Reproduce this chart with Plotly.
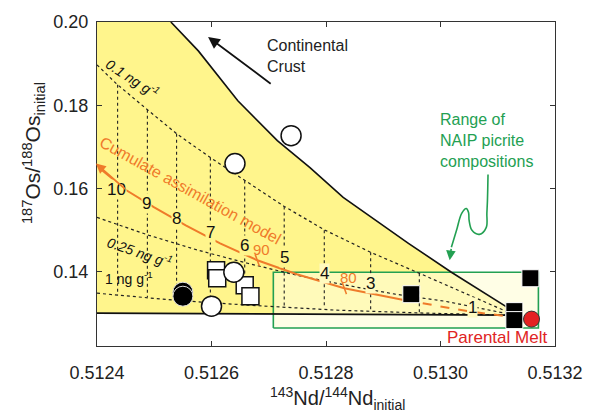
import plotly.graph_objects as go

# ---------------- data ----------------
x_ticks = [0.5124, 0.5126, 0.5128, 0.5130, 0.5132]
y_ticks = [0.14, 0.16, 0.18, 0.20]

# common end-member of all mixing curves (parental melt side)
end_x = 0.51313
end_y = 0.1296

# upper bound: mixing with continental crust
crust_x = [0.512529, 0.512577, 0.512646, 0.512715, 0.512772, 0.512830, 0.512887, 0.512944, 0.513019, 0.513116]
crust_y = [0.2000, 0.19306, 0.18109, 0.17151, 0.16505, 0.15787, 0.15236, 0.14686, 0.13991, 0.13154]

# lower bound (solid line)
lower_x = [0.5124]
lower_y = [0.1301]

# Os-concentration mixing curves
c01_x = [0.5124, 0.512434, 0.512486, 0.512539, 0.512598, 0.512658, 0.512727, 0.512799, 0.512878, 0.512963]
c01_y = [0.18971, 0.18516, 0.17917, 0.17319, 0.16744, 0.16194, 0.15571, 0.14997, 0.14470, 0.13967]
c025_x = [0.5124, 0.512491, 0.512577, 0.512663, 0.512749, 0.512835, 0.512921, 0.513007]
c025_y = [0.15308, 0.14877, 0.14518, 0.14206, 0.13919, 0.13680, 0.13464, 0.13297]
c1_x = [0.5124, 0.512534, 0.512663, 0.512818, 0.512973]
c1_y = [0.13488, 0.13321, 0.13201, 0.13081, 0.13010]

# tie lines (% assimilated markers)
tie_x = [0.512436, 0.512488, 0.512539, 0.512598, 0.512658, 0.512727, 0.512797, 0.512878, 0.512963]
tie_top = [0.18492, 0.17893, 0.17319, 0.16744, 0.16194, 0.15571, 0.14997, 0.14470, 0.13967]
tie_bot = [0.13440, 0.13393, 0.13345, 0.13297, 0.13237, 0.13177, 0.13129, 0.13057, 0.13010]

step_labels = ["10", "9", "8", "7", "6", "5", "4", "3", "1"]
step_x = [0.512434, 0.512486, 0.512539, 0.512598, 0.512658, 0.512727, 0.512797, 0.512877, 0.513056]
step_y = [0.15978, 0.15643, 0.15284, 0.14949, 0.14637, 0.14350, 0.13967, 0.13728, 0.13153]

# cumulate assimilation model (orange)
cum_x = [0.512405, 0.512452, 0.512500, 0.512555, 0.512615, 0.512680, 0.512749, 0.512832, 0.512938]
cum_y = [0.16481, 0.15954, 0.15547, 0.15116, 0.14685, 0.14278, 0.13943, 0.13608, 0.13321]
cum_dash_x = [0.512938, 0.513047, 0.513114]
cum_dash_y = [0.13321, 0.13057, 0.12938]
cum_tick_labels = ["90", "80"]
cum_tick_x = [0.512680, 0.512832]
cum_tick_y = [0.14278, 0.13608]

# samples
open_circ_x = [0.512739, 0.512641, 0.512639, 0.512600]
open_circ_y = [0.17271, 0.16600, 0.13991, 0.13177]
black_circ_x = [0.512550, 0.512550]
black_circ_y = [0.13512, 0.13416]
open_sq_x = [0.512608, 0.512610, 0.512658, 0.512668]
open_sq_y = [0.14039, 0.13848, 0.13680, 0.13417]
black_sq_x = [0.512949, 0.513157, 0.513129, 0.513129]
black_sq_y = [0.13464, 0.13847, 0.13057, 0.12842]
melt_x = [0.513159]
melt_y = [0.12866]

# NAIP picrite range box
box_x = [0.512708, 0.513171]
box_y = [0.12651, 0.13991]

# green squiggly arrow
sq_x = [0.513083, 0.513082, 0.513081, 0.513080, 0.513068, 0.513055, 0.513050, 0.513049, 0.513045, 0.513037, 0.513028, 0.513019]
sq_y = [0.16337, 0.15715, 0.15404, 0.15069, 0.14901, 0.14997, 0.15236, 0.15428, 0.15523, 0.15404, 0.14997, 0.14590]

YELLOW = "#FFF58C"
ORANGE = "#EF7B2A"
GREEN = "#23A052"
FONT = "Arial, Liberation Sans, sans-serif"

fig = go.Figure()

# yellow field
poly_x = [0.5124, crust_x[0]] + crust_x + [end_x] + lower_x[::-1] + [0.5124]
poly_y = [0.2, 0.2] + crust_y + [end_y] + lower_y[::-1] + [0.2]
fig.add_trace(go.Scatter(x=poly_x, y=poly_y, fill="toself", fillcolor=YELLOW,
                         mode="lines", line=dict(width=0), hoverinfo="skip"))

# NAIP box
fig.add_trace(go.Scatter(x=[box_x[0], box_x[1], box_x[1], box_x[0], box_x[0]],
                         y=[box_y[0], box_y[0], box_y[1], box_y[1], box_y[0]],
                         fill="toself", fillcolor="rgba(255,253,215,0.62)",
                         mode="lines", line=dict(color=GREEN, width=1.6)))

# tie lines
for xv, t, b in zip(tie_x, tie_top, tie_bot):
    fig.add_trace(go.Scatter(x=[xv, xv], y=[t, b], mode="lines",
                             line=dict(color="#222", width=1.1, dash="dot")))

# mixing curves
for cx, cy in [(c01_x, c01_y), (c025_x, c025_y), (c1_x, c1_y)]:
    fig.add_trace(go.Scatter(x=cx + [end_x], y=cy + [end_y], mode="lines",
                             line=dict(color="#222", width=1.2, dash="dot")))

# crust bound and lower bound (solid)
fig.add_trace(go.Scatter(x=crust_x + [end_x], y=crust_y + [end_y], mode="lines",
                         line=dict(color="#111", width=1.6)))
fig.add_trace(go.Scatter(x=lower_x + [end_x], y=lower_y + [end_y], mode="lines",
                         line=dict(color="#111", width=1.6)))

# cumulate assimilation model
fig.add_trace(go.Scatter(x=cum_x, y=cum_y, mode="lines", line=dict(color=ORANGE, width=2)))
fig.add_trace(go.Scatter(x=cum_dash_x, y=cum_dash_y, mode="lines",
                         line=dict(color=ORANGE, width=2, dash="dash")))
fig.add_trace(go.Scatter(x=cum_tick_x, y=cum_tick_y, mode="markers",
                         marker=dict(symbol="line-ns", size=9, angle=-20,
                                     line=dict(color=ORANGE, width=1.5))))

# green squiggle
fig.add_trace(go.Scatter(x=sq_x, y=sq_y, mode="lines", line=dict(color=GREEN, width=1.6, shape="spline")))

# samples
fig.add_trace(go.Scatter(x=open_sq_x, y=open_sq_y, mode="markers",
                         marker=dict(symbol="square", size=17, color="white",
                                     line=dict(color="#111", width=1.5))))
fig.add_trace(go.Scatter(x=open_circ_x, y=open_circ_y, mode="markers",
                         marker=dict(symbol="circle", size=20, color="white",
                                     line=dict(color="#111", width=1.5))))
fig.add_trace(go.Scatter(x=black_circ_x, y=black_circ_y, mode="markers",
                         marker=dict(symbol="circle", size=20, color="black",
                                     line=dict(color="#ddd", width=1))))
fig.add_trace(go.Scatter(x=black_sq_x, y=black_sq_y, mode="markers",
                         marker=dict(symbol="square", size=17, color="black",
                                     line=dict(color="white", width=1))))
fig.add_trace(go.Scatter(x=melt_x, y=melt_y, mode="markers",
                         marker=dict(symbol="circle", size=16, color="#E42222",
                                     line=dict(color="#333", width=1))))

ann = []
# step labels
for lab, xv, yv in zip(step_labels, step_x, step_y):
    bg = YELLOW if yv > box_y[1] + 0.0005 else "#FFFAC0"
    ann.append(dict(x=xv, y=yv, text=lab, showarrow=False, bgcolor=bg, borderpad=0,
                    font=dict(family=FONT, size=17, color="#111")))
for lab, xv, yv in zip(cum_tick_labels, cum_tick_x, cum_tick_y):
    ann.append(dict(x=xv, y=yv, text=lab, showarrow=False, yshift=11, xshift=4,
                    font=dict(family=FONT, size=15, color=ORANGE)))

ann += [
    dict(x=0.512563, y=0.15954, text="Cumulate assimilation model", showarrow=False,
         textangle=29, font=dict(family=FONT, size=16, color=ORANGE)),
    dict(x=0.512462, y=0.18659, text="<i>0.1 ng g<sup>-1</sup></i>", showarrow=False,
         textangle=33, font=dict(family=FONT, size=14, color="#111")),
    dict(x=0.512475, y=0.14470, text="<i>0.25 ng g<sup>-1</sup></i>", showarrow=False,
         textangle=19, font=dict(family=FONT, size=14, color="#111")),
    dict(x=0.51241, y=0.13847, text="1 ng g<sup>-1</sup>", showarrow=False, xanchor="left",
         font=dict(family=FONT, size=14, color="#111")),
    # continental crust
    dict(x=0.512693, y=0.19174, text="Continental<br>Crust", showarrow=False, xanchor="left",
         align="left", font=dict(family=FONT, size=16, color="#222")),
    dict(x=0.512594, y=0.19641, ax=0.512706, ay=0.18492, axref="x", ayref="y", xref="x", yref="y",
         text="", showarrow=True, arrowhead=2, arrowsize=1.3, arrowwidth=1.8, arrowcolor="#111"),
    # NAIP
    dict(x=0.512995, y=0.17151, text="Range of<br>NAIP picrite<br>compositions", showarrow=False,
         xanchor="left", align="left", font=dict(family=FONT, size=16, color=GREEN)),
    dict(x=0.513016, y=0.14279, ax=sq_x[-1], ay=sq_y[-1], axref="x", ayref="y",
         text="", showarrow=True, arrowhead=2, arrowsize=1.2, arrowwidth=1.6, arrowcolor=GREEN),
    # orange arrow
    dict(x=0.512398, y=0.16600, ax=cum_x[1], ay=cum_y[1], axref="x", ayref="y",
         text="", showarrow=True, arrowhead=2, arrowsize=1.1, arrowwidth=1.8, arrowcolor=ORANGE),
    # parental melt
    dict(x=0.513098, y=0.12420, text="Parental Melt", showarrow=False,
         font=dict(family=FONT, size=17, color="#E02424")),
    # axis titles
    dict(xref="paper", yref="paper", x=0.525, y=-0.162, xanchor="center", yanchor="middle",
         text="<sup>143</sup>Nd/<sup>144</sup>Nd<sub>initial</sub>",
         showarrow=False, font=dict(family=FONT, size=20, color="#222")),
    dict(xref="paper", yref="paper", x=-0.14, y=0.595, xanchor="center", yanchor="middle",
         text="<sup>187</sup>Os/<sup>188</sup>Os<sub>initial</sub>",
         showarrow=False, textangle=-90, font=dict(family=FONT, size=21, color="#222")),
]

axis_common = dict(showgrid=False, zeroline=False, showline=True, linecolor="#333", linewidth=1.3,
                   ticks="inside", ticklen=5, tickcolor="#333", mirror="ticks",
                   tickfont=dict(family=FONT, size=18, color="#222"))

fig.update_layout(
    width=595, height=412, showlegend=False,
    margin=dict(l=97, r=33, t=21, b=66),
    plot_bgcolor="white", paper_bgcolor="white",
    xaxis=dict(range=[0.5124, 0.5132], tickvals=x_ticks, ticktext=[f"{v:.4f}" for v in x_ticks],
               ticklabelstandoff=10, **axis_common),
    yaxis=dict(range=[0.1222, 0.2], tickvals=y_ticks, ticktext=[f"{v:.2f}" for v in y_ticks],
               ticklabelstandoff=4, **axis_common),
    annotations=ann,
)

fig.write_html("out.html")
